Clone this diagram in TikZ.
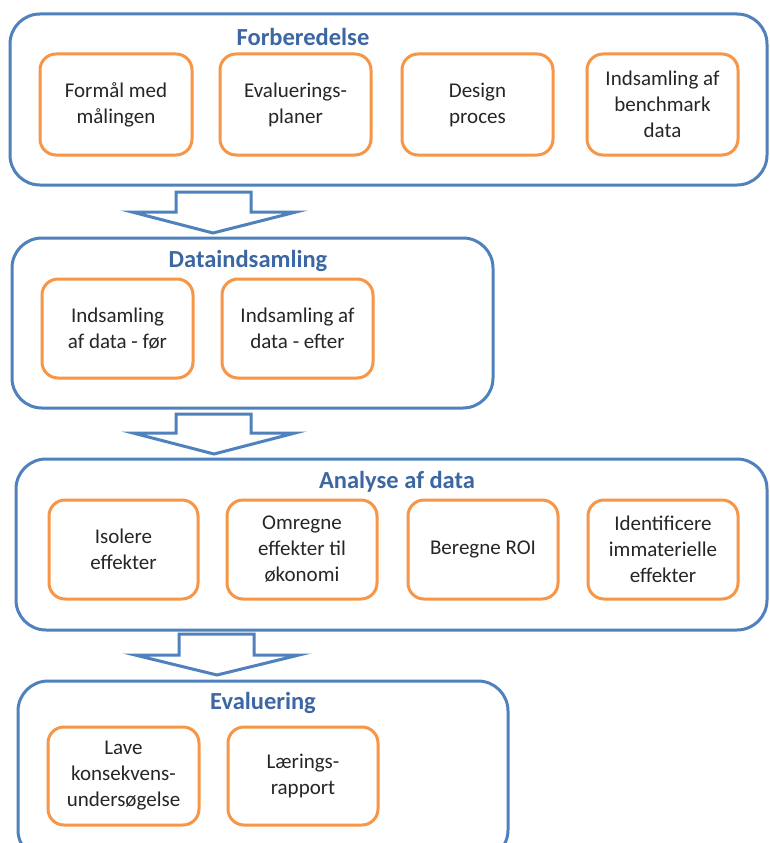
\documentclass[tikz,border=0pt]{standalone}
\usepackage{fontspec}
\setmainfont{Carlito}
\definecolor{outerblue}{HTML}{4F81BD}
\definecolor{titleblue}{HTML}{3C67A3}
\definecolor{boxorange}{HTML}{F79646}
\definecolor{txt}{HTML}{262626}
\tikzset{
  outerbox/.style={draw=outerblue, line width=3pt, rounded corners=30pt, fill=white, inner sep=0pt, rectangle},
  subbox/.style={draw=boxorange, line width=3pt, rounded corners=16pt, fill=white, inner sep=0pt, rectangle,
    text=txt, align=center, font=\fontsize{21}{26}\selectfont},
  titletext/.style={text=titleblue, font=\fontsize{24.5}{28}\selectfont\bfseries, inner sep=0pt},
  flowarrow/.style={draw=outerblue, line width=3pt, fill=white, line join=miter}
}
\newcommand{\myouter}[5]{% name, x1, y1, x2, y2
  \node[outerbox, minimum width={#4-#2}, minimum height={#5-#3}] (#1) at ({(#2+#4)/2},{(#3+#5)/2}) {};}
\newcommand{\mysub}[6]{% name, x1, y1, x2, y2, text
  \node[subbox, minimum width={#4-#2}, minimum height={#5-#3}] (#1) at ({(#2+#4)/2},{(#3+#5)/2}) {#6};}
\begin{document}
\begin{tikzpicture}[x=1pt,y=-1pt]
\useasboundingbox (0,0) rectangle (769,843);
\clip (0,0) rectangle (769,843);
\fill[white] (0,0) rectangle (769,843);

% ---------- Forberedelse ----------
\myouter{b1}{10}{14}{767}{185}
\node[titletext] (t1) at (303,37) {Forberedelse};
\mysub{f1}{40}{54}{192}{155}{Formål med\\målingen}
\mysub{f2}{220}{54}{371}{155}{Evaluerings-\\planer}
\mysub{f3}{402}{54}{553}{155}{Design\\proces}
\mysub{f4}{587}{54}{738}{155}{Indsamling af\\benchmark\\data}

% arrow 1
\draw[flowarrow] (176,192) -- (251,192) -- (251,212) -- (296,212) -- (213,233) -- (132,212) -- (176,212) -- cycle;

% ---------- Dataindsamling ----------
\myouter{b2}{12}{238}{493}{408}
\node[titletext] (t2) at (248,261) {Dataindsamling};
\mysub{d1}{42}{279}{193}{378}{Indsamling\\af data - før}
\mysub{d2}{222}{279}{373}{378}{Indsamling af\\data - efter}

% arrow 2
\draw[flowarrow] (176,414) -- (251,414) -- (251,433) -- (295,433) -- (214,454) -- (133,433) -- (176,433) -- cycle;

% ---------- Analyse af data ----------
\myouter{b3}{16}{459}{767}{630}
\node[titletext] (t3) at (397,482) {Analyse af data};
\mysub{a1}{49}{500}{198}{599}{Isolere\\effekter}
\mysub{a2}{227}{500}{377}{599}{Omregne\\effekter til\\økonomi}
\mysub{a3}{408}{500}{558}{599}{\raisebox{4pt}{Beregne ROI}}
\mysub{a4}{588}{500}{738}{599}{Identificere\\immaterielle\\effekter}

% arrow 3
\draw[flowarrow] (179,634) -- (254,634) -- (254,655) -- (299,655) -- (217,675) -- (135,655) -- (179,655) -- cycle;

% ---------- Evaluering ----------
\myouter{b4}{18}{681}{508}{860}
\node[titletext] (t4) at (263,703) {Evaluering};
\mysub{e1}{48}{727}{199}{825}{Lave\\konsekvens-\\undersøgelse}
\mysub{e2}{228}{727}{378}{825}{Lærings-\\rapport}
\end{tikzpicture}
\end{document}
